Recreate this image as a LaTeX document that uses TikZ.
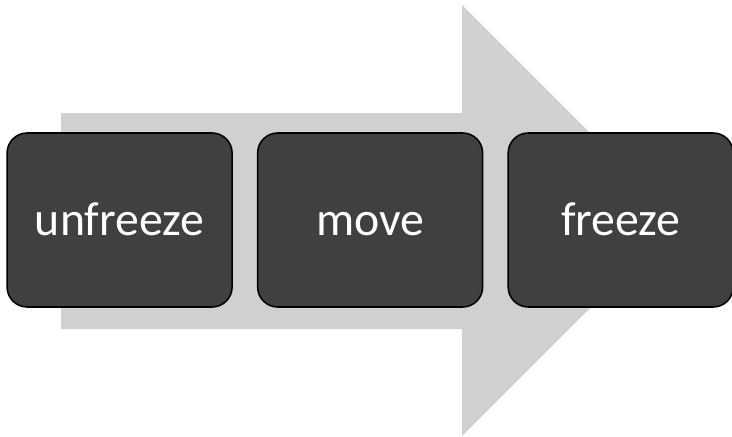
\documentclass[tikz,border=0pt]{standalone}
\usepackage{fontspec}
\setmainfont{Carlito}
\usetikzlibrary{positioning}
\definecolor{boxgray}{HTML}{404040}
\definecolor{arrowgray}{HTML}{D0D0D0}
\begin{document}
\begin{tikzpicture}[
    stage/.style={rectangle, draw=black, line width=1.1pt, fill=boxgray, text=white, minimum width=5.625cm, minimum height=4.35cm, rounded corners=0.5cm, align=center, text height=0.85cm, text depth=0.1cm, font=\fontsize{34}{40}\selectfont},
    bigarrow/.style={fill=arrowgray}
]
\useasboundingbox (0,0) rectangle (18.3,10.9);

% Background arrow
\fill[bigarrow] (1.525,2.675) -- (11.55,2.675) -- (11.55,0) -- (16.94,5.3875)
    -- (11.55,10.775) -- (11.55,8.075) -- (1.525,8.075) -- cycle;

% Stages
\node[stage] (unfreeze) at (2.99,5.4) {unfreeze};
\node[stage, right=0.6cm of unfreeze] (move) {move};
\node[stage, right=0.6cm of move] (freeze) {freeze};

\end{tikzpicture}
\end{document}
